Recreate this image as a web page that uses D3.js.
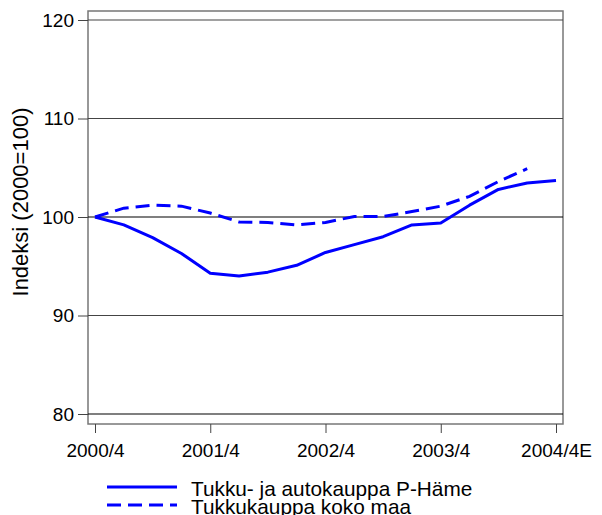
<!DOCTYPE html>
<html><head><meta charset="utf-8">
<script src="https://cdn.jsdelivr.net/npm/d3@7"></script>
<style>body{margin:0;background:#fff}svg{display:block;font-family:"Liberation Sans",Arial,sans-serif}</style>
</head><body><svg id="c" width="602" height="515"></svg>
<script>
const quarters = ["2000/4","2001/1","2001/2","2001/3","2001/4","2002/1","2002/2","2002/3","2002/4","2003/1","2003/2","2003/3","2003/4","2004/1","2004/2","2004/3","2004/4E"];
const tickLabels = ["2000/4","2001/4","2002/4","2003/4","2004/4E"];
const yTicks = [80, 90, 100, 110, 120];
const seriesNames = ["Tukku- ja autokauppa P-Häme", "Tukkukauppa koko maa"];
const phame = [100, 99.2, 97.9, 96.3, 94.3, 94.0, 94.4, 95.1, 96.4, 97.2, 98.0, 99.2, 99.4, 101.2, 102.8, 103.45, 103.7];
const kokoMaa = [100, 100.9, 101.2, 101.1, 100.4, 99.5, 99.45, 99.2, 99.45, 100.05, 100.05, 100.55, 101.1, 102.1, 103.6, 104.9];

const svg = d3.select("#c");
const L = 88, R = 563, T = 11, B = 424;
const x = d3.scalePoint().domain(quarters).range([95, 556]);
const y = d3.scaleLinear().domain([80, 120]).range([414, 20]);
const FF = "Liberation Sans, Arial, sans-serif";

// frame
svg.append("rect").attr("x", L).attr("y", T).attr("width", R - L).attr("height", B - T)
  .attr("fill", "none").attr("stroke", "#777").attr("stroke-width", 1.5);

// gridlines
svg.append("g").selectAll("line").data(yTicks).join("line")
  .attr("x1", L).attr("x2", R).attr("y1", d => y(d)).attr("y2", d => y(d))
  .attr("stroke", d => d === 100 || d === 80 ? "#000" : "#444").attr("stroke-width", 1.2);

// y axis
const ya = svg.append("g").attr("transform", `translate(${L},0)`)
  .call(d3.axisLeft(y).tickValues(yTicks).tickSize(10).tickPadding(4));
ya.select(".domain").remove();
ya.selectAll("line").attr("stroke", "#444");
ya.selectAll("text").attr("font-size", 19).attr("fill", "#000").attr("font-family", FF);

// x axis
const xa = svg.append("g").attr("transform", `translate(0,${B})`)
  .call(d3.axisBottom(x).tickValues(tickLabels).tickSize(9).tickPadding(11));
xa.select(".domain").remove();
xa.selectAll("line").attr("stroke", "#444");
xa.selectAll("text").attr("font-size", 19).attr("fill", "#000").attr("font-family", FF);

// y label
svg.append("text").attr("transform", "translate(28,202) rotate(-90)")
  .attr("text-anchor", "middle").attr("font-size", 22).text("Indeksi (2000=100)");

// lines
const line = d3.line().x((d, i) => x(quarters[i])).y(d => y(d));
svg.append("path").datum(phame).attr("d", line).attr("fill", "none")
  .attr("stroke", "#0000ff").attr("stroke-width", 3).attr("stroke-linejoin", "round");
svg.append("path").datum(kokoMaa).attr("d", line).attr("fill", "none")
  .attr("stroke", "#0000ff").attr("stroke-width", 3).attr("stroke-dasharray", "14,7");

// legend
const leg = svg.append("g");
const styles = [null, "14,7"];
seriesNames.forEach((n, i) => {
  const yy = 487 + i * 18;
  leg.append("line").attr("x1", 107).attr("x2", 177).attr("y1", yy).attr("y2", yy)
    .attr("stroke", "#0000ff").attr("stroke-width", 3).attr("stroke-dasharray", styles[i]);
  leg.append("text").attr("x", 191).attr("y", yy + 9).attr("font-size", 20.8).text(n);
});
</script></body></html>
